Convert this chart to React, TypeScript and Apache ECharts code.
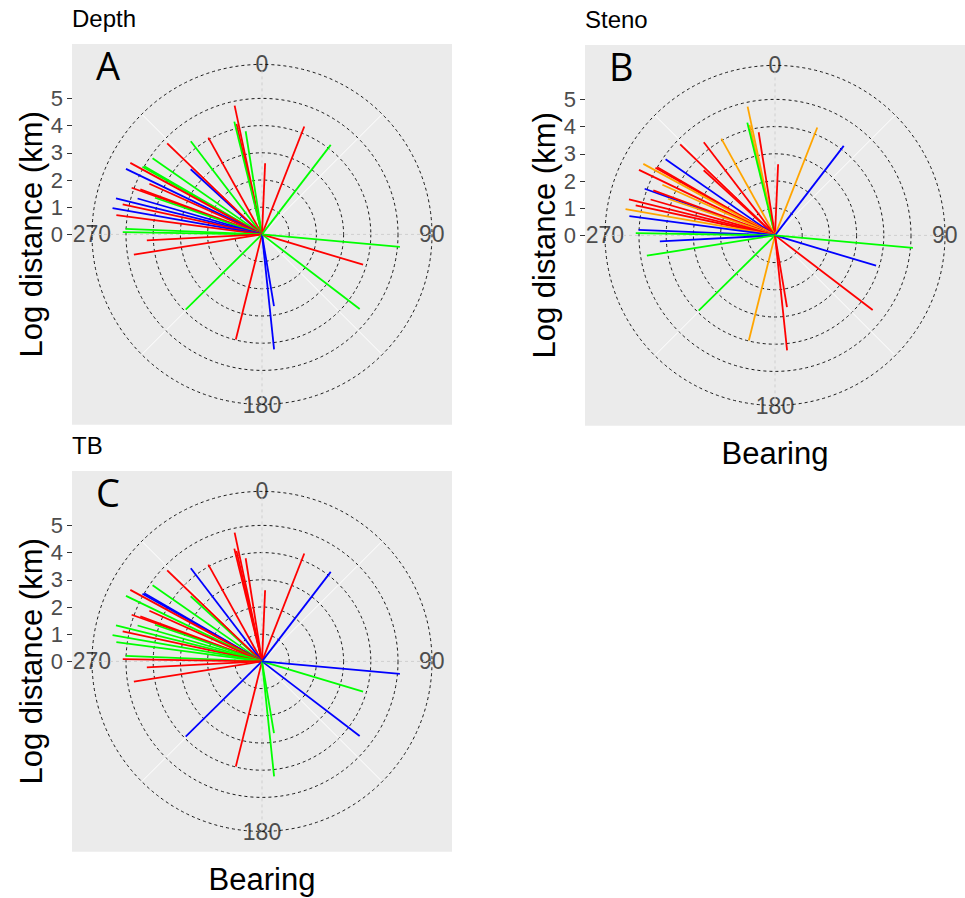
import React, { useEffect, useRef } from "react";
import * as echarts from "echarts";

// Bearing (degrees, clockwise from north) and log distance (km) of each site
const bearings = [348.0, 347.0, 346.2, 351.0, 2.5, 21.4, 37.5, 331.0, 322.6, 312.4, 313.8, 304.8, 300.1, 299.5, 298.5, 295.7, 294.2, 289.7, 290.3, 288.9, 286.1, 283.9, 282.2, 280.0, 277.5, 272.3, 270.9, 267.0, 261.0, 225.4, 194.0, 174.0, 170.5, 127.4, 106.7, 95.2];
const logDist = [4.84, 4.17, 4.27, 3.84, 2.62, 4.26, 4.15, 4.07, 4.31, 3.55, 4.83, 4.90, 5.00, 5.05, 5.51, 5.55, 4.54, 5.09, 4.77, 4.16, 4.76, 5.53, 5.24, 5.58, 5.40, 5.02, 5.12, 4.24, 4.77, 3.94, 3.98, 4.25, 2.67, 4.52, 3.88, 5.09];

// colour class of each site in each panel
const depthGroup = ["r","r","g","g","r","r","g","r","g","b","r","g","g","g","r","b","r","r","r","g","b","b","r","b","r","g","g","r","r","g","r","b","b","g","r","g"];
const stenoGroup = ["o","o","g","r","r","o","b","o","r","r","r","b","r","r","o","r","o","b","r","o","r","r","r","o","b","b","g","b","g","g","o","r","r","r","b","g"];
const tbGroup = ["r","r","r","r","r","r","b","r","b","g","r","g","b","b","r","g","r","r","r","g","g","g","r","g","g","g","r","r","r","b","r","g","g","b","g","b"];

const angleTicks = [0, 90, 180, 270];
const radiusTicks = [0, 1, 2, 3, 4, 5];

const PALETTE: Record<string, string> = { r: "#FF0000", g: "#00FF00", b: "#0000FF", o: "#FFA500" };

const FONT = "'Liberation Sans', Arial, sans-serif";
const U = 27.2; // px per unit
const PANEL = 14 * U;
const RMAX = 6.25;

const panels = [
  { left: 72, top: 44, title: "Depth", letter: "A", groups: depthGroup, bearing: false },
  { left: 585, top: 45, title: "Steno", letter: "B", groups: stenoGroup, bearing: true },
  { left: 72, top: 471, title: "TB", letter: "C", groups: tbGroup, bearing: true },
];

function buildOption() {
  const title: any[] = [];
  const grid: any[] = [];
  const xAxis: any[] = [];
  const yAxis: any[] = [];
  const polar: any[] = [];
  const angleAxis: any[] = [];
  const radiusAxis: any[] = [];
  const series: any[] = [];

  panels.forEach((p, pi) => {
    const cx = p.left + 190;
    const cy = p.top + PANEL / 2;
    title.push({
      text: p.title, left: p.left, top: p.top - 38, padding: 0,
      textStyle: { fontSize: 24, fontWeight: "normal", color: "#000", fontFamily: FONT },
    });
    title.push({
      text: p.letter, left: p.left + 24, top: p.top + 2, padding: 0,
      textStyle: { fontSize: 38, fontWeight: "normal", color: "#000", fontFamily: "'Open Sans', sans-serif" },
    });
    grid.push({
      left: p.left, top: p.top, width: 380, height: PANEL,
      show: true, backgroundColor: "#EBEBEB", borderWidth: 0,
    });
    xAxis.push({
      gridIndex: pi, type: "value", min: 0, max: 1,
      axisLine: { show: false }, axisTick: { show: false }, axisLabel: { show: false }, splitLine: { show: false },
      name: p.bearing ? "Bearing" : "", nameLocation: "middle", nameGap: 12,
      nameTextStyle: { fontSize: 31, color: "#000", fontFamily: FONT, verticalAlign: "top" },
    });
    yAxis.push({
      gridIndex: pi, type: "value", min: -7, max: 7, interval: 1,
      axisLine: { show: false },
      axisTick: { show: true, length: 5, customValues: radiusTicks, lineStyle: { color: "#333", width: 1 } },
      axisLabel: {
        show: true, margin: 9, color: "#4D4D4D", fontFamily: FONT,
        textStyle: { fontSize: 22 },
        fontSize: 22,
        hideOverlap: false,
        formatter: (v: number) => (radiusTicks.includes(v) ? String(v) : ""),
      },
      splitLine: { show: false },
      name: "Log distance (km)", nameLocation: "middle", nameGap: 25,
      nameTextStyle: { fontSize: 31, color: "#000", fontFamily: FONT },
    });
    polar.push({ center: [cx, cy], radius: RMAX * U });
    angleAxis.push({
      polarIndex: pi, type: "value", min: 0, max: 360, interval: 90, startAngle: 90, clockwise: true,
      axisLine: { show: true, lineStyle: { color: "#000", type: [3, 3], width: 0.9 } },
      axisTick: { show: false },
      minorTick: { show: false, splitNumber: 2 },
      axisLabel: {
        show: true, margin: -19, fontSize: 23, color: "#4D4D4D", fontFamily: FONT,
        formatter: (v: number) => {
          if (!angleTicks.includes(v)) return "";
          if (v === 0) return "{t|0}";
          if (v === 90) return "{r|90}";
          if (v === 180) return "{b|180}";
          return "{l|270}";
        },
        rich: {
          t: { fontSize: 23, color: "#4D4D4D", fontFamily: FONT, padding: [0, 0, 8, 0] },
          r: { fontSize: 23, color: "#4D4D4D", fontFamily: FONT, padding: [0, 0, 0, 6] },
          b: { fontSize: 23, color: "#4D4D4D", fontFamily: FONT, padding: [8, 0, 0, 0] },
          l: { fontSize: 23, color: "#4D4D4D", fontFamily: FONT },
        },
      },
      splitLine: { show: true, lineStyle: { color: "#CFCFCF", type: [3, 3], width: 1 } },
      minorSplitLine: { show: true, lineStyle: { color: "#FFFFFF", width: 1 } },
    });
    radiusAxis.push({
      polarIndex: pi, type: "value", min: 0, max: RMAX, interval: 1,
      axisLine: { show: false }, axisTick: { show: false }, axisLabel: { show: false },
      splitLine: {
        show: true,
        lineStyle: { color: ["rgba(0,0,0,0)", "#000", "#000", "#000", "#000", "#000", "rgba(0,0,0,0)", "rgba(0,0,0,0)"], type: [3, 3], width: 0.9 },
      },
    });
    bearings.forEach((b, i) => {
      series.push({
        type: "line", coordinateSystem: "polar", polarIndex: pi,
        data: [[0, b], [logDist[i], b]],
        symbol: "none", silent: true, z: 3,
        lineStyle: { color: PALETTE[p.groups[i]], width: 1.8 },
      });
    });
  });

  return { animation: false, backgroundColor: "#FFFFFF", title, grid, xAxis, yAxis, polar, angleAxis, radiusAxis, series };
}

export default function App() {
  const ref = useRef<HTMLDivElement>(null);
  useEffect(() => {
    if (!ref.current) return;
    const chart = echarts.init(ref.current, undefined, { renderer: "svg" });
    chart.setOption(buildOption() as any);
    return () => chart.dispose();
  }, []);
  return <div ref={ref} style={{ position: "fixed", left: 0, top: 0, width: 965, height: 898 }} />;
}
